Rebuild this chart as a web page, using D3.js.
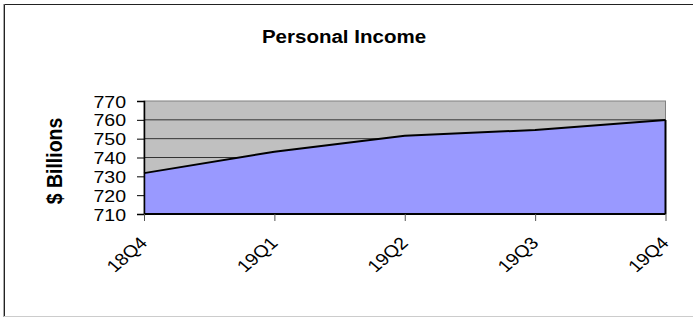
<!DOCTYPE html>
<html><head><meta charset="utf-8">
<script src="https://cdn.jsdelivr.net/npm/d3@7"></script>
<style>body{margin:0;background:#fff}svg{display:block}text{font-family:Arial,"Liberation Sans",sans-serif}</style>
</head><body><svg id="c" width="693" height="317"></svg>
<script>
const categories = ["18Q4","19Q1","19Q2","19Q3","19Q4"];
const income = [731.7, 743.1, 751.6, 754.6, 759.9];
const yTicks = [710,720,730,740,750,760,770];
const title = "Personal Income";
const yTitle = "$ Billions";

const svg = d3.select("#c");
const L=144, R=665.5, T=101, B=214;
const SX = 1.15;
// outer frame
svg.append("path").attr("d","M4.5,317 V4.5 H700").attr("fill","none").attr("stroke","#222").attr("stroke-width",1);
svg.append("line").attr("x1",3.5).attr("x2",3.5).attr("y1",4).attr("y2",317).attr("stroke","#aaa");
svg.append("line").attr("x1",4).attr("x2",700).attr("y1",316.5).attr("y2",316.5).attr("stroke","#ccc");

const x = d3.scalePoint().domain(categories).range([L,R]);
const y = d3.scaleLinear().domain([710,770]).range([B,T]);

svg.append("rect").attr("x",L).attr("y",T).attr("width",R-L).attr("height",B-T).attr("fill","#C0C0C0").attr("stroke","#808080").attr("stroke-width",1);
svg.append("g").selectAll("line").data(yTicks.slice(1,-1)).join("line")
  .attr("x1",L).attr("x2",R).attr("y1",d=>y(d)).attr("y2",d=>y(d)).attr("stroke","#333").attr("stroke-width",1);

const pts = categories.map((c,i)=>[c,income[i]]);
svg.append("path").datum(pts)
  .attr("d", d3.area().x(d=>x(d[0])).y0(B).y1(d=>y(d[1])))
  .attr("fill","#9999FF");
svg.append("path").datum(pts)
  .attr("d", d3.line().x(d=>x(d[0])).y(d=>y(d[1])))
  .attr("fill","none").attr("stroke","#000").attr("stroke-width",2);
svg.append("line").attr("x1",R).attr("x2",R).attr("y1",y(income[income.length-1])).attr("y2",B).attr("stroke","#000").attr("stroke-width",2);
svg.append("line").attr("x1",L).attr("x2",R).attr("y1",B).attr("y2",B).attr("stroke","#000").attr("stroke-width",2);

const ya = svg.append("g").attr("transform",`translate(${L},0)`)
  .call(d3.axisLeft(y).tickValues(yTicks).tickSize(7).tickPadding(0));
ya.select(".domain").attr("stroke","#000").attr("stroke-width",1.5);
ya.selectAll(".tick line").attr("stroke","#000");
ya.selectAll(".tick text").attr("x",null).attr("dy",null)
  .attr("font-size",17).attr("fill","#000").attr("font-family","Arial, 'Liberation Sans', sans-serif")
  .attr("transform",`translate(-18,6) scale(${SX},1)`);

const xa = svg.append("g").attr("transform",`translate(0,${B})`)
  .call(d3.axisBottom(x).tickSize(7).tickSizeOuter(0));
xa.select(".domain").remove();
xa.selectAll(".tick line").attr("stroke","#555");
xa.selectAll("text").attr("font-size",17).attr("fill","#000").attr("font-family","Arial, 'Liberation Sans', sans-serif")
  .attr("text-anchor","end").attr("dy",null).attr("y",0)
  .attr("transform",`translate(4,30) scale(${SX},1) rotate(-45)`);

svg.append("text").attr("transform","translate(344,42.5) scale(1.08,1)").attr("text-anchor","middle").attr("font-size",19).attr("font-weight","bold").text(title);
svg.append("text").attr("transform",`translate(62,161) scale(${SX},1) rotate(-90)`).attr("text-anchor","middle").attr("font-size",19.5).attr("font-weight","bold").text(yTitle);
</script></body></html>
